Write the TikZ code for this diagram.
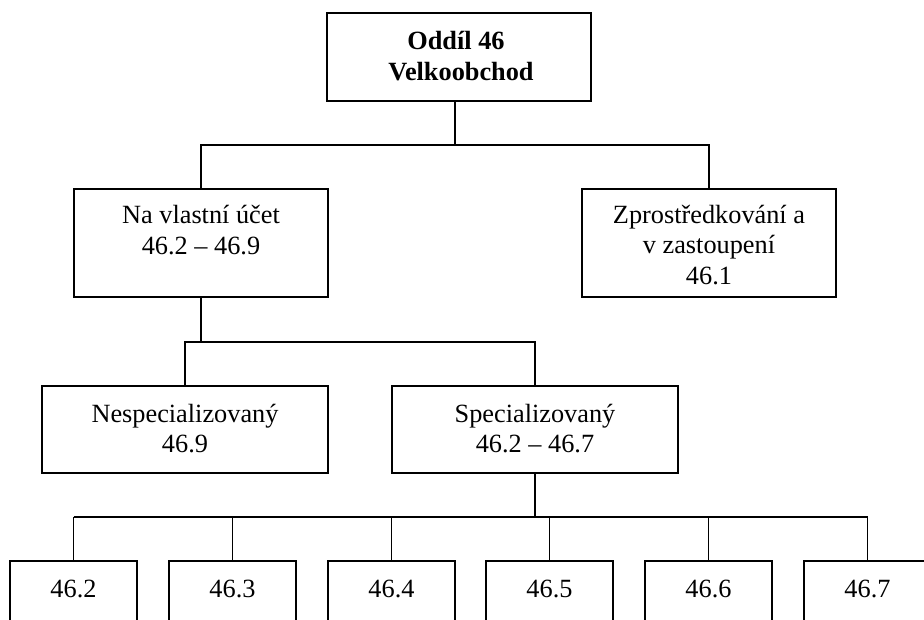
\documentclass[tikz,border=0pt]{standalone}
\usepackage{fontspec}
\setmainfont{Liberation Serif}
\begin{document}
\begin{tikzpicture}[x=1pt,y=-1pt,
  box/.style={draw=black, line width=1.6pt, rectangle, inner sep=0pt, outer sep=0pt, anchor=north west},
  txt/.style={inner sep=0pt, anchor=base, font=\fontsize{26.3}{30}\selectfont},
  conn/.style={draw=black, line width=1.6pt},
  thin/.style={draw=black, line width=1.1pt}]
\useasboundingbox (0,0) rectangle (924,620);
\fill[white] (0,0) rectangle (924,620);
\clip (0,0) rectangle (924,620);
% boxes
\node[box, minimum width=264pt, minimum height=88pt] (top) at (327,13) {};
\node[box, minimum width=254pt, minimum height=108pt] (own) at (74,189) {};
\node[box, minimum width=254pt, minimum height=108pt] (agent) at (582,189) {};
\node[box, minimum width=286pt, minimum height=87pt] (nesp) at (42,386) {};
\node[box, minimum width=286pt, minimum height=87pt] (spec) at (392,386) {};
\node[box, minimum width=127pt, minimum height=90pt] (b2) at (10,561) {};
\node[box, minimum width=127pt, minimum height=90pt] (b3) at (169,561) {};
\node[box, minimum width=127pt, minimum height=90pt] (b4) at (328,561) {};
\node[box, minimum width=127pt, minimum height=90pt] (b5) at (486,561) {};
\node[box, minimum width=127pt, minimum height=90pt] (b6) at (645,561) {};
\node[box, minimum width=127pt, minimum height=90pt] (b7) at (804,561) {};
% texts
\node[txt] (topA) at (456,50) {\textbf{Oddíl 46}};
\node[txt] (topB) at (461,81) {\textbf{Velkoobchod}};
\node[txt] (ownA) at (201,224) {Na vlastní účet};
\node[txt] (ownB) at (201,255) {46.2 – 46.9};
\node[txt] (agA) at (709,224) {Zprostředkování a};
\node[txt] (agB) at (709,254) {v zastoupení};
\node[txt] (agC) at (709,285) {46.1};
\node[txt] (nsA) at (185,422) {Nespecializovaný};
\node[txt] (nsB) at (185,452) {46.9};
\node[txt] (spA) at (535,422) {Specializovaný};
\node[txt] (spB) at (535,452) {46.2 – 46.7};
\node[txt] (t2) at (b2.north) [yshift=-36pt] {46.2};
\node[txt] (t3) at (b3.north) [yshift=-36pt] {46.3};
\node[txt] (t4) at (b4.north) [yshift=-36pt] {46.4};
\node[txt] (t5) at (b5.north) [yshift=-36pt] {46.5};
\node[txt] (t6) at (b6.north) [yshift=-36pt] {46.6};
\node[txt] (t7) at (b7.north) [yshift=-36pt] {46.7};
% connectors
\coordinate (bus1) at (455,145);
\coordinate (bus2) at (201,342);
\coordinate (bus3) at (535,517);
\draw[conn] (top.south -| bus1) -- (bus1);
\draw[conn] (own.north) |- (bus1) -| (agent.north);
\draw[conn] (own.south) -- (own.south |- bus2);
\draw[conn] (nesp.north) |- (bus2) -| (spec.north);
\draw[conn] (spec.south) -- (spec.south |- bus3);
\draw[conn] (bus3 -| b2.north) -- (bus3 -| b7.north);
\draw[thin] (b2.north) -- (b2.north |- bus3);
\draw[thin] (b3.north) -- (b3.north |- bus3);
\draw[thin] (b4.north) -- (b4.north |- bus3);
\draw[thin] (b5.north) -- (b5.north |- bus3);
\draw[thin] (b6.north) -- (b6.north |- bus3);
\draw[thin] (b7.north) -- (b7.north |- bus3);
\end{tikzpicture}
\end{document}
